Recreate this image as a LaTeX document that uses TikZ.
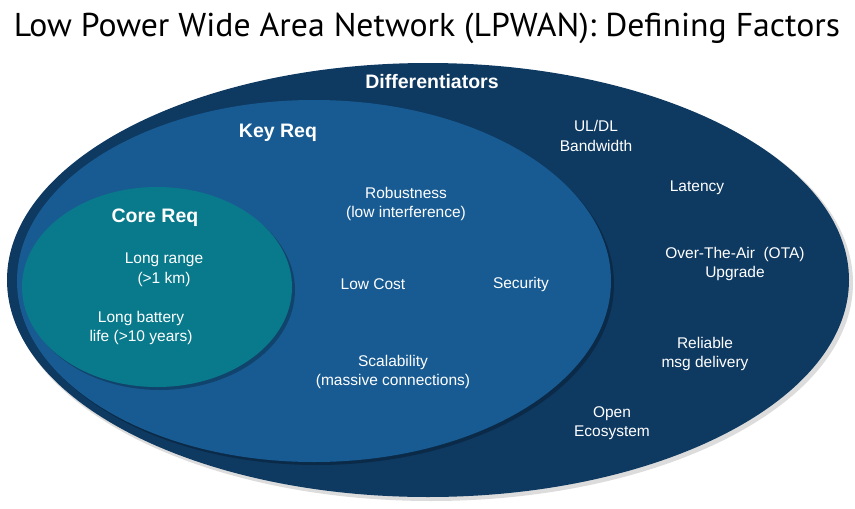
\documentclass[tikz,border=0pt]{standalone}
\usepackage{fontspec}
\setmainfont{Liberation Sans}
\newfontfamily\titlefont{PT Sans}
\usetikzlibrary{shapes.geometric}
\definecolor{outerblue}{RGB}{14,57,97}
\definecolor{midblue}{RGB}{24,91,146}
\definecolor{coreteal}{RGB}{9,122,139}
\definecolor{shadowgrey}{RGB}{60,60,60}
\tikzset{
  lbl/.style={text=white, align=center, inner sep=0pt, font=\fontsize{15.5}{19.5}\selectfont},
  head/.style={text=white, align=center, inner sep=0pt, font=\fontsize{19.5}{22}\selectfont\bfseries},
}
\begin{document}
\begin{tikzpicture}[x=1pt,y=-1pt]
\useasboundingbox (0,0) rectangle (855,509);
% title
\node[inner sep=0pt, anchor=base] (title) at (427,36.5) {\resizebox{826pt}{\height}{\titlefont\fontsize{33}{36}\selectfont Low Power Wide Area Network (LPWAN): Defining Factors}};
% outer ellipse with soft shadow
\fill[shadowgrey, opacity=0.18] (431,283) ellipse [x radius=422, y radius=218];
\fill[outerblue] (428,280) ellipse [x radius=421, y radius=217];
% middle ellipse
\fill[black, opacity=0.25] (317,284) ellipse [x radius=297, y radius=181];
\fill[midblue] (314,281) ellipse [x radius=297, y radius=181];
% core ellipse
\fill[black, opacity=0.25] (160,290) ellipse [x radius=135, y radius=100];
\fill[coreteal] (157,287) ellipse [x radius=135, y radius=100];
% headings
\node[head] (diff) at (432,82) {Differentiators};
\node[head] (key) at (278,133) {Key Req};
\node[head] (core) at (155,218) {Core Req};
% core items
\node[lbl] (range) at (164,270) {Long range\\(>1 km)};
\node[lbl] (battery) at (141,328) {Long battery\\life (>10 years)};
% key items
\node[lbl] (robust) at (406,204) {Robustness\\(low interference)};
\node[lbl] (cost) at (373,284) {Low Cost};
\node[lbl] (security) at (521,284) {Security};
\node[lbl] (scal) at (393,372) {Scalability\\(massive connections)};
% differentiators
\node[lbl] (bw) at (596,136) {UL/DL\\Bandwidth};
\node[lbl] (lat) at (697,188) {Latency};
\node[lbl] (ota) at (735,264) {Over-The-Air\ \ (OTA)\\Upgrade};
\node[lbl] (rel) at (705,354) {Reliable\\msg delivery};
\node[lbl] (open) at (612,423) {Open\\Ecosystem};
\end{tikzpicture}
\end{document}
